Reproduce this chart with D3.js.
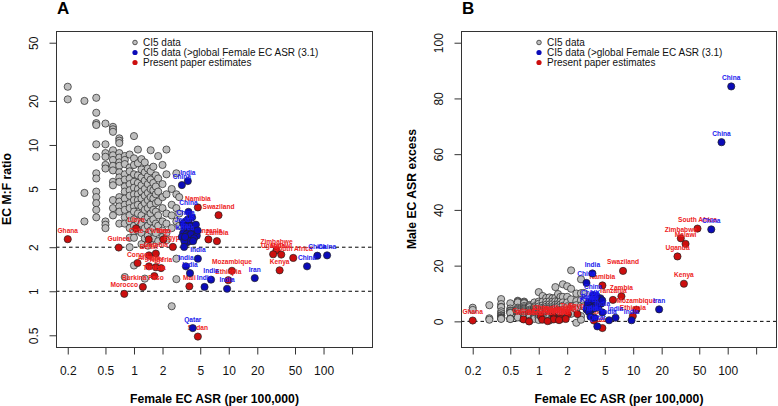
<!DOCTYPE html>
<html><head><meta charset="utf-8">
<script src="https://cdn.jsdelivr.net/npm/d3@7"></script>
<style>body{margin:0;background:#fff}svg{display:block;font-family:"Liberation Sans",Arial,Helvetica,sans-serif}</style>
</head><body><svg id="c" width="778" height="406"></svg>
<script>
// ---------------- DATA ----------------
const xTickVals = [0.2, 0.5, 1, 2, 5, 10, 20, 50, 100, 200];
const xTickLabels = ["0.2", "0.5", "1", "2", "5", "10", "20", "50", "100", ""];
const yTicksA = [0.5, 1, 2, 5, 10, 20, 50];
const yTicksB = [0, 20, 40, 60, 80, 100];
const legendLabels = ["CI5 data", "CI5 data (>global Female EC ASR (3.1)", "Present paper estimates"];

// CI5 data (grey): female ASR columns, with M:F ratios (panel A) and male excess (panel B)
const grayAsr = [0.2, 0.3, 0.4, 0.5, 0.6, 0.7, 0.8, 0.9, 1.0, 1.1, 1.2, 1.3, 1.4, 1.5, 1.6, 1.7, 1.8, 2.0, 2.2, 2.5, 2.8, 3.0];
const grayRatioA = [
  [25, 20.5],
  [20, 4.7, 3.0],
  [21, 16.6, 14.1, 13.7, 10.1, 8.3, 6.4, 5.9, 4.8, 4.4, 4.0, 3.6, 3.2],
  [14, 10.1, 8.8, 8.3, 7.3, 6.9, 3.0, 2.85, 2.7],
  [13.3, 12.8, 12.3, 9.2, 8.5, 7.9, 7.2, 6.7, 5.6, 5.3, 4.2, 3.7, 3.3],
  [11.1, 10.7, 10.3, 8.8, 8.2, 7.6, 7.2, 6.5, 6.0, 5.6, 4.4, 4.1, 3.8, 3.5, 2.9],
  [8.4, 7.9, 7.4, 6.3, 5.8, 5.2, 4.8, 4.3, 3.9, 3.6, 3.2, 2.9, 1.25],
  [8.6, 7.0, 6.6, 5.9, 5.4, 4.9, 4.5, 4.0, 3.7, 3.3, 3.0, 2.7, 2.32, 2.0],
  [11.5, 8.1, 7.3, 6.3, 5.6, 5.1, 4.6, 4.2, 3.8, 3.5, 3.1, 2.8, 2.55, 2.32, 1.5],
  [9.3, 7.5, 6.2, 5.5, 5.0, 4.6, 4.2, 3.9, 3.4, 3.0, 2.6],
  [8.0, 6.8, 6.0, 5.3, 4.8, 4.3, 3.8, 3.3, 2.9, 2.5, 2.1],
  [7.6, 6.5, 5.7, 5.0, 4.5, 4.0, 3.6, 3.1, 2.7, 2.3, 1.22],
  [6.9, 6.1, 5.4, 4.7, 4.2, 3.7, 3.2, 2.8, 2.4, 2.05],
  [9.2, 6.6, 5.8, 5.0, 4.4, 3.9, 3.4, 3.0, 2.6, 2.2],
  [7.1, 5.5, 4.9, 4.3, 3.6, 3.1, 2.7, 2.3],
  [6.2, 5.2, 4.6, 4.0, 3.5, 2.9, 2.5],
  [8.4, 5.9, 4.8, 4.1, 3.3, 2.8, 2.2],
  [7.3, 5.4, 4.4, 3.7, 3.0, 2.6, 2.35],
  [9.3, 6.3, 4.6, 3.4, 2.9, 2.5, 2.23],
  [5.0, 3.9, 3.3, 2.7, 0.79],
  [6.4, 4.6, 3.7, 3.0, 1.67, 1.21],
  [4.4, 3.4, 2.8]
];
const grayExcessB = [
  [4.9, 4.1],
  [5.8, 1.1, 0.6],
  [8.0, 6.2, 5.2, 5.1, 3.6, 2.9, 2.2, 2.0, 1.5, 1.4, 1.2, 1.0, 0.9],
  [6.5, 4.6, 3.9, 3.7, 3.2, 3.0, 1.0, 0.9, 0.85],
  [7.4, 7.1, 6.8, 4.9, 4.5, 4.1, 3.7, 3.4, 2.8, 2.6, 1.9, 1.6, 1.4],
  [7.1, 6.8, 6.5, 5.5, 5.0, 4.6, 4.3, 3.9, 3.5, 3.2, 2.4, 2.2, 1.9, 1.8, 1.3],
  [5.9, 5.5, 5.1, 4.2, 3.8, 3.4, 3.0, 2.6, 2.3, 2.1, 1.8, 1.5, 0.2],
  [6.8, 5.4, 5.0, 4.4, 4.0, 3.5, 3.2, 2.7, 2.4, 2.1, 1.8, 1.5, 1.2, 0.9],
  [10.5, 7.1, 6.3, 5.3, 4.6, 4.1, 3.6, 3.2, 2.8, 2.5, 2.1, 1.8, 1.55, 1.3, 0.5],
  [9.1, 7.1, 5.7, 4.9, 4.4, 4.0, 3.5, 3.2, 2.6, 2.2, 1.8],
  [8.4, 7.0, 6.0, 5.2, 4.6, 4.0, 3.4, 2.8, 2.3, 1.8, 1.3],
  [8.6, 7.2, 6.1, 5.2, 4.6, 3.9, 3.4, 2.7, 2.2, 1.7, 0.3],
  [8.3, 7.1, 6.2, 5.2, 4.5, 3.8, 3.1, 2.5, 2.0, 1.5],
  [12.3, 8.4, 7.2, 6.0, 5.1, 4.4, 3.6, 3.0, 2.4, 1.8],
  [9.8, 7.2, 6.2, 5.3, 4.2, 3.4, 2.7, 2.1],
  [8.8, 7.1, 6.1, 5.1, 4.3, 3.2, 2.6],
  [13.3, 8.8, 6.8, 5.6, 4.1, 3.2, 2.2],
  [12.6, 8.8, 6.8, 5.4, 4.0, 3.2, 2.7],
  [18.3, 11.7, 7.9, 5.3, 4.2, 3.3, 2.7],
  [10.0, 7.3, 5.8, 4.3, -0.5],
  [15.1, 10.1, 7.6, 5.6, 1.9, 0.6],
  [10.2, 7.2, 5.4]
];

// CI5 data above global female ASR (blue)
const blueNames = ["India", "China", "China",
  "China", "", "", "UK", "", "Japan", "", "", "", "", "", "Iran", "", "", "", "", "", "", "", "",
  "", "", "", "", "", "", "",
  "Korea", "", "India", "India", "India", "India", "India", "India", "Iran", "China", "China", "China", "Qatar"];
const blueAsr = [3.7, 3.2, 3.76,
  3.5, 3.6, 3.8, 4.0, 4.2, 3.4, 3.7, 3.9, 4.1, 4.4, 3.3, 3.6, 3.8, 4.0, 4.6, 3.2, 3.5, 4.3, 3.6, 3.9,
  3.3, 4.5, 4.7, 3.4, 4.2, 3.7, 4.1,
  3.46, 3.38, 4.72, 3.53, 3.9, 6.5, 5.55, 9.6, 18.8, 67, 86, 109, 4.17];
const blueRatio = [5.66, 5.32, 3.49,
  3.0, 2.85, 2.9, 2.8, 2.75, 2.7, 2.65, 2.6, 2.55, 2.6, 2.5, 2.45, 2.4, 2.45, 2.4, 2.35, 2.3, 2.3, 2.15, 2.2,
  2.9, 2.85, 2.6, 2.2, 2.2, 3.1, 3.2,
  2.35, 2.01, 1.67, 1.48, 1.33, 1.2, 1.07, 1.04, 1.23, 1.48, 1.75, 1.76, 0.56];
const blueExcess = [17.2, 13.8, 9.4,
  7.0, 6.7, 7.2, 7.2, 7.4, 5.8, 6.1, 6.2, 6.4, 7.0, 5.0, 5.2, 5.3, 5.8, 6.4, 4.3, 4.6, 5.6, 4.1, 4.7,
  6.3, 8.3, 7.5, 4.1, 5.0, 7.8, 9.0,
  4.7, 3.4, 3.2, 1.7, 1.3, 1.3, 0.4, 0.4, 4.3, 33, 64.3, 84.3, -1.8];

// Present paper estimates (red)
const redNames = ["Ghana", "Guinea", "Libya", "Cote d'Ivoire", "Togo", "Egypt", "Congo", "Benin", "Gambia", "Algeria",
  "Niger", "Nigeria", "Tunisia", "Burkina Faso", "Morocco", "Mali", "Sudan", "Namibia", "Swaziland", "Tanzania",
  "Zambia", "Mozambique", "Ethiopia", "Zimbabwe", "Uganda", "Malawi", "South Africa", "Kenya"];
const redAsr = [0.2, 0.69, 1.05, 1.43, 2.04, 2.57, 1.09, 1.44, 1.7, 1.44,
  1.7, 1.93, 1.64, 1.24, 0.79, 3.84, 4.72, 4.72, 7.8, 6.1,
  7.5, 10.8, 9.9, 31.9, 29.4, 35.8, 47.9, 34.4];
const redRatio = [2.27, 1.99, 2.69, 2.26, 2.26, 2.01, 1.56, 1.76, 1.81, 1.48,
  1.46, 1.44, 1.27, 1.07, 0.96, 1.08, 0.49, 3.74, 3.31, 2.26,
  2.2, 1.38, 1.19, 1.91, 1.79, 1.78, 1.69, 1.39];
const redExcess = [0.3, 0.7, 1.8, 1.8, 2.6, 2.6, 0.6, 1.1, 1.4, 0.7,
  0.8, 0.85, 0.44, 0.1, -0.03, 0.3, -2.4, 12.9, 18.1, 7.7,
  9.0, 4.2, 1.9, 29.8, 23.3, 27.8, 33.3, 13.5];

// ---------------- DRAWING ----------------
const GRAY = "#bebebe", BLUE = "#0b0bb8", RED = "#cc0e0e", LBLUE = "#1a1aee", LRED = "#ee2222", AXC = "#333";
const svg = d3.select("#c");

function rExt(lo, hi) { const e = (hi - lo) * 0.04; return [lo - e, hi + e]; }
const xl = rExt(Math.log10(0.2), Math.log10(250));
const xDomain = [Math.pow(10, xl[0]), Math.pow(10, xl[1])];
const yAl = rExt(Math.log10(0.5), Math.log10(50));
const yADomain = [Math.pow(10, yAl[0]), Math.pow(10, yAl[1])];
const yBDomain = rExt(-5, 100);

function panel(o) {
  const top = 31, bottom = 347;
  const x = d3.scaleLog().domain(xDomain).range([o.left, o.right]);
  const y = o.y.range([bottom, top]);
  const g = svg.append("g");

  o.hlines.forEach(v => {
    g.append("line").attr("x1", o.left).attr("x2", o.right)
      .attr("y1", y(v)).attr("y2", y(v))
      .attr("stroke", "#000").attr("stroke-width", 1).attr("stroke-dasharray", "3.5,3");
  });

  const grayPts = [];
  grayAsr.forEach((a, i) => o.grayY[i].forEach(v => grayPts.push([a, v])));
  g.append("g").selectAll("circle").data(grayPts).join("circle")
    .attr("cx", d => x(d[0])).attr("cy", d => y(d[1])).attr("r", 3.6)
    .attr("fill", GRAY).attr("stroke", "#222").attr("stroke-width", 0.7);

  const redPts = redNames.map((n, i) => ({n, a: redAsr[i], v: o.redY[i]}));
  g.append("g").selectAll("circle").data(redPts).join("circle")
    .attr("cx", d => x(d.a)).attr("cy", d => y(d.v)).attr("r", 3.6)
    .attr("fill", RED).attr("stroke", "#222").attr("stroke-width", 0.7);
  g.append("g").selectAll("text").data(redPts).join("text")
    .attr("x", d => x(d.a)).attr("y", d => y(d.v) - 6.5)
    .attr("text-anchor", "middle").attr("font-size", 6.6).attr("font-weight", "bold")
    .attr("fill", LRED).text(d => d.n);

  const bluePts = blueNames.map((n, i) => ({n, a: blueAsr[i], v: o.blueY[i]}));
  g.append("g").selectAll("circle").data(bluePts).join("circle")
    .attr("cx", d => x(d.a)).attr("cy", d => y(d.v)).attr("r", 3.6)
    .attr("fill", BLUE).attr("stroke", "#222").attr("stroke-width", 0.7);
  g.append("g").selectAll("text").data(bluePts.filter(d => d.n)).join("text")
    .attr("x", d => x(d.a)).attr("y", d => y(d.v) - 6.5)
    .attr("text-anchor", "middle").attr("font-size", 6.6).attr("font-weight", "bold")
    .attr("fill", LBLUE).text(d => d.n);

  g.append("rect").attr("x", o.left + 0.5).attr("y", top + 0.5)
    .attr("width", o.right - o.left - 1).attr("height", bottom - top)
    .attr("fill", "none").attr("stroke", AXC).attr("stroke-width", 1);

  const xa = g.append("g").attr("transform", `translate(0,${bottom + 0.5})`)
    .call(d3.axisBottom(x).tickValues(xTickVals).tickFormat((d, i) => xTickLabels[i]).tickSize(7).tickPadding(12));
  xa.select(".domain").remove();
  xa.selectAll("line").attr("stroke", AXC);
  xa.attr("font-family", null);
  xa.selectAll("text").attr("font-size", 12).attr("fill", "#111");

  const ya = g.append("g").attr("transform", `translate(${o.left + 0.5},0)`)
    .call(d3.axisLeft(y).tickValues(o.yTicks).tickFormat(d => String(d)).tickSize(7));
  ya.select(".domain").remove();
  ya.selectAll("line").attr("stroke", AXC);
  ya.attr("font-family", null);
  ya.selectAll("text").attr("x", 0).attr("dy", 0).attr("font-size", 12).attr("fill", "#111")
    .attr("text-anchor", "middle").attr("transform", "translate(-19,0) rotate(-90)");

  g.append("text").attr("x", (o.left + o.right) / 2).attr("y", 403)
    .attr("text-anchor", "middle").attr("font-size", 12.2).attr("font-weight", "bold")
    .text("Female EC ASR (per 100,000)");
  g.append("text").attr("transform", `translate(${o.left - 45.5},${(top + bottom) / 2}) rotate(-90)`)
    .attr("text-anchor", "middle").attr("font-size", 12.2).attr("font-weight", "bold")
    .text(o.yTitle);
  g.append("text").attr("x", o.left + 1).attr("y", 13.5)
    .attr("font-size", 17).attr("font-weight", "bold").text(o.letter);

  const lg = g.append("g");
  const cols = [GRAY, BLUE, RED];
  legendLabels.forEach((t, i) => {
    const cy = 42.5 + i * 10;
    if (i === 0) {
      lg.append("circle").attr("cx", o.legX).attr("cy", cy).attr("r", 2.3)
        .attr("fill", GRAY).attr("stroke", "#333").attr("stroke-width", 0.8);
    } else {
      lg.append("circle").attr("cx", o.legX).attr("cy", cy).attr("r", 2.6).attr("fill", cols[i]);
    }
    lg.append("text").attr("x", o.legX + 8).attr("y", cy + 3.6)
      .attr("font-size", 10).attr("fill", "#111").text(t);
  });
}

panel({
  left: 56, right: 373, y: d3.scaleLog().domain(yADomain), yTicks: yTicksA,
  yTitle: "EC M:F ratio", letter: "A", hlines: [1, 2],
  grayY: grayRatioA, redY: redRatio, blueY: blueRatio, legX: 135
});
panel({
  left: 461, right: 777, y: d3.scaleLinear().domain(yBDomain), yTicks: yTicksB,
  yTitle: "Male EC ASR excess", letter: "B", hlines: [0],
  grayY: grayExcessB, redY: redExcess, blueY: blueExcess, legX: 539
});
</script>
</body></html>
